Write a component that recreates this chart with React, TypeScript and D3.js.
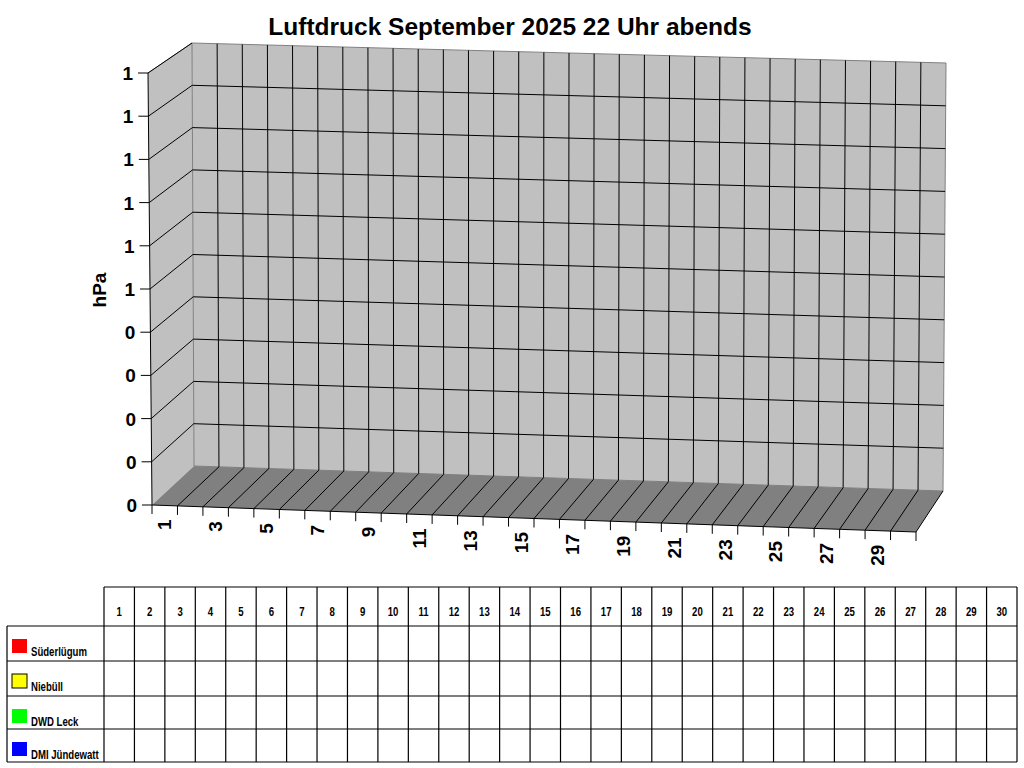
import React from "react";
import * as d3 from "d3";

// ---- data ----
const title = "Luftdruck September 2025 22 Uhr abends";
const yAxisTitle = "hPa";
const days = d3.range(1, 31);
const dayTickLabels = days.filter((d) => d % 2 === 1).map(String);
const yTickValues = [0, 0.1, 0.2, 0.3, 0.4, 0.5, 0.6, 0.7, 0.8, 0.9, 1];
const yTickLabels = ["0", "0", "0", "0", "0", "1", "1", "1", "1", "1", "1"];
const stationNames = ["Süderlügum", "Niebüll", "DWD Leck", "DMI Jündewatt"];
const stationColors = ["#ff0000", "#ffff00", "#00ff00", "#0000ff"];
// no readings yet for this month
const suederluegum: (number | null)[] = days.map(() => null);
const niebuell: (number | null)[] = days.map(() => null);
const dwdLeck: (number | null)[] = days.map(() => null);
const dmiJuendewatt: (number | null)[] = days.map(() => null);
const seriesValues = [suederluegum, niebuell, dwdLeck, dmiJuendewatt];

type P = [number, number];
const lerp = (a: P, b: P, t: number): P => [a[0] + (b[0] - a[0]) * t, a[1] + (b[1] - a[1]) * t];

// 3D box corners
const FLT: P = [148, 73];
const FLB: P = [152, 505];
const BLT: P = [192, 43];
const BLB: P = [194, 466];
const BRT: P = [946, 63];
const BRB: P = [943, 491];
const FRB: P = [916, 532];

const xScale = d3.scaleLinear().domain([0.5, 30.5]).range([0, 1]);
const yScale = d3.scaleLinear().domain([0, 1]).range([0, 1]);

const back = (u: number, v: number): P => lerp(lerp(BLB, BRB, u), lerp(BLT, BRT, u), v);
const floorFront = (u: number): P => lerp(FLB, FRB, u);
const leftFront = (v: number): P => lerp(FLB, FLT, v);
const leftBack = (v: number): P => lerp(BLB, BLT, v);

const pts = (a: P[]) => a.map((p) => p.join(",")).join(" ");

const tableX = d3.scaleLinear().domain([0, 30]).range([104, 1017]);
const rowEdges = [626, 661, 696, 729, 762];
const narrow = "'Liberation Sans Narrow', 'Arial Narrow', 'Liberation Sans', Arial, sans-serif";
const sans = "'Liberation Sans', Arial, sans-serif";
const squeeze = 0.8;

export default function App() {
  const boundaries = d3.range(0, 31).map((i) => i + 0.5);
  return (
    <svg
      width={1024}
      height={768}
      style={{ position: "absolute", left: 0, top: 0, display: "block", background: "#fff" }}
    >
      <text x={510} y={35} textAnchor="middle" fontFamily={sans} fontWeight="bold" fontSize={24.5}>
        {title}
      </text>

      {/* walls */}
      <polygon points={pts([FLB, FLT, BLT, BLB])} fill="#c0c0c0" stroke="none" />
      <polygon points={pts([BLB, BLT, BRT, BRB])} fill="#c0c0c0" stroke="#808080" strokeWidth={1} />
      <polygon points={pts([FLB, BLB, BRB, FRB])} fill="#808080" stroke="none" />
      <line x1={FLT[0]} y1={FLT[1]} x2={BLT[0]} y2={BLT[1]} stroke="#808080" />

      {/* grid */}
      {yTickValues.map((v, i) => {
        const a = back(0, yScale(v));
        const b = back(1, yScale(v));
        const c = leftFront(yScale(v));
        const d = leftBack(yScale(v));
        return (
          <g key={"h" + i}>
            {i > 0 && i < yTickValues.length - 1 && (
              <line x1={a[0]} y1={a[1]} x2={b[0]} y2={b[1]} stroke="#000" strokeWidth={1} />
            )}
            {i > 0 && <line x1={c[0]} y1={c[1]} x2={d[0]} y2={d[1]} stroke="#000" strokeWidth={1} />}
          </g>
        );
      })}
      {boundaries.map((b, i) => {
        const u = xScale(b);
        const p0 = back(u, 0);
        const p1 = back(u, 1);
        const f = floorFront(u);
        return (
          <g key={"v" + i}>
            {i > 0 && i < 30 && <line x1={p0[0]} y1={p0[1]} x2={p1[0]} y2={p1[1]} stroke="#000" />}
            {i > 0 && <line x1={f[0]} y1={f[1]} x2={p0[0]} y2={p0[1]} stroke="#000" />}
            <line x1={f[0]} y1={f[1]} x2={f[0]} y2={f[1] + 9} stroke="#000" />
          </g>
        );
      })}

      {/* axes */}
      <line x1={FLT[0]} y1={FLT[1]} x2={FLB[0]} y2={FLB[1]} stroke="#000" />
      <line x1={FLB[0]} y1={FLB[1]} x2={FRB[0]} y2={FRB[1]} stroke="#000" />

      {yTickValues.map((v, i) => {
        const p = leftFront(yScale(v));
        return (
          <g key={"yt" + i}>
            <line x1={p[0] - 10} y1={p[1]} x2={p[0]} y2={p[1]} stroke="#000" />
            <text
              x={p[0] - 15}
              y={p[1] + 7}
              textAnchor="end"
              fontFamily={sans}
              fontWeight="bold"
              fontSize={19}
            >
              {yTickLabels[i]}
            </text>
          </g>
        );
      })}
      <text
        transform={`translate(106,290) rotate(-90)`}
        textAnchor="middle"
        fontFamily={sans}
        fontWeight="bold"
        fontSize={19}
      >
        {yAxisTitle}
      </text>

      {dayTickLabels.map((lab) => {
        const f = floorFront(xScale(+lab));
        return (
          <text
            key={"xl" + lab}
            transform={`translate(${f[0] + 6.5},${f[1] + 14}) rotate(-90)`}
            textAnchor="end"
            fontFamily={sans}
            fontWeight="bold"
            fontSize={19}
          >
            {lab}
          </text>
        );
      })}

      {/* data table */}
      <g stroke="#000" strokeWidth={1.2}>
        <line x1={tableX(0)} y1={587} x2={tableX(30)} y2={587} />
        {rowEdges.map((y, i) => (
          <line key={"r" + i} x1={7} y1={y} x2={tableX(30)} y2={y} />
        ))}
        <line x1={7} y1={rowEdges[0]} x2={7} y2={rowEdges[rowEdges.length - 1]} />
        {d3.range(0, 31).map((i) => (
          <line key={"c" + i} x1={tableX(i)} y1={587} x2={tableX(i)} y2={rowEdges[rowEdges.length - 1]} />
        ))}
      </g>
      {days.map((d, i) => (
        <text
          key={"th" + d}
          transform={`translate(${(tableX(i) + tableX(i + 1)) / 2},616) scale(${squeeze},1)`}
          textAnchor="middle"
          fontFamily={narrow}
          fontWeight="bold"
          fontSize={12}
        >
          {d}
        </text>
      ))}
      {stationNames.map((name, i) => {
        const top = rowEdges[i];
        return (
          <g key={"st" + i}>
            <rect
              x={12}
              y={top + 13}
              width={15}
              height={14}
              fill={stationColors[i]}
              stroke={i === 1 ? "#000" : "none"}
            />
            <text
              transform={`translate(31,${top + 30}) scale(${squeeze},1)`}
              fontFamily={narrow}
              fontWeight="bold"
              fontSize={12}
            >
              {name}
            </text>
            {seriesValues[i].map((v, j) =>
              v == null ? null : (
                <text
                  key={j}
                  x={(tableX(j) + tableX(j + 1)) / 2}
                  y={top + 22}
                  textAnchor="middle"
                  fontFamily={narrow}
                  fontSize={10}
                >
                  {v}
                </text>
              )
            )}
          </g>
        );
      })}
    </svg>
  );
}
